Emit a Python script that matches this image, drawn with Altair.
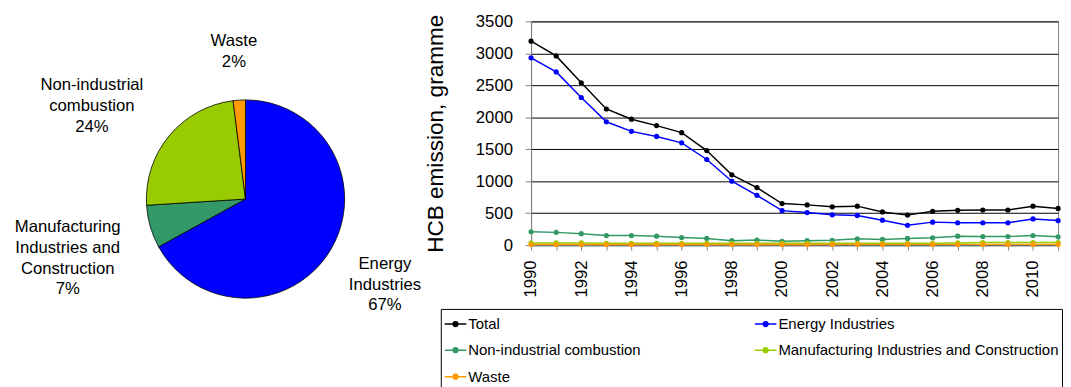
import altair as alt
import pandas as pd

FONT = "Liberation Sans"

# ---- pie data ----
pie_cats = ["Energy Industries", "Manufacturing Industries and Construction",
            "Non-industrial combustion", "Waste"]
pie_pct = [67, 7, 24, 2]
pie_labels = ["Energy\nIndustries\n67%", "Manufacturing\nIndustries and\nConstruction\n7%",
              "Non-industrial\ncombustion\n24%", "Waste\n2%"]
pie_colors = ["#0000FF", "#339966", "#99CC00", "#FF9900"]

# ---- line data ----
years = [1990, 1991, 1992, 1993, 1994, 1995, 1996, 1997, 1998, 1999, 2000,
         2001, 2002, 2003, 2004, 2005, 2006, 2007, 2008, 2009, 2010, 2011]
total = [3190, 2960, 2540, 2130, 1970, 1870, 1760, 1480, 1100, 900, 650,
         630, 600, 610, 520, 470, 530, 545, 550, 550, 610, 575]
energy = [2930, 2710, 2310, 1930, 1780, 1700, 1600, 1340, 1000, 780, 540,
          510, 475, 465, 390, 310, 360, 350, 350, 350, 410, 385]
nonind = [210, 200, 180, 150, 150, 140, 120, 105, 70, 80, 60,
          70, 75, 100, 90, 105, 115, 140, 135, 135, 150, 130]
manuf = [35, 35, 35, 30, 30, 30, 30, 30, 30, 30, 30,
         30, 30, 30, 30, 30, 30, 35, 40, 40, 40, 40]
waste = [10, 10, 10, 10, 10, 10, 10, 10, 10, 10, 10,
         10, 12, 12, 12, 12, 12, 12, 12, 12, 12, 12]
series = ["Total", "Energy Industries", "Non-industrial combustion",
          "Manufacturing Industries and Construction", "Waste"]
series_colors = ["#000000", "#0000FF", "#339966", "#99CC00", "#FF9900"]
y_ticks = [0, 500, 1000, 1500, 2000, 2500, 3000, 3500]

pie_df = pd.DataFrame({"cat": pie_cats, "pct": pie_pct, "label": pie_labels,
                       "idx": list(range(len(pie_cats)))})

rows = []
for name, vals in zip(series, [total, energy, nonind, manuf, waste]):
    for y, v in zip(years, vals):
        rows.append({"year": y, "value": v, "series": name})
line_df = pd.DataFrame(rows)

# ---- pie chart ----
CX, CY = 242, 181
theta_scale = alt.Scale(domain=[0, 100])
pie_arcs = alt.Chart(pie_df).mark_arc(radius=101, stroke="#000000", strokeWidth=0.8).encode(
    theta=alt.Theta("pct:Q", stack=True, scale=theta_scale),
    order=alt.Order("idx:Q"),
    x=alt.value(CX), y=alt.value(CY),
    color=alt.Color("cat:N", scale=alt.Scale(domain=pie_cats, range=pie_colors), legend=None),
)
# label nudges (style only): category -> (dx, dy)
nudges = {
    "Energy Industries": (-6, -21),
    "Manufacturing Industries and Construction": (-16, -19),
    "Non-industrial combustion": (-24, -6),
    "Waste": (-1, 11),
}
label_base = alt.Chart(pie_df).transform_window(
    cum="sum(pct)", sort=[alt.SortField("idx")]
).transform_calculate(mid="datum.cum - datum.pct / 2")
text_layers = []
for cat, (ddx, ddy) in nudges.items():
    text_layers.append(
        label_base.transform_filter(alt.datum.cat == cat)
        .mark_text(radius=172, font=FONT, fontSize=17, lineBreak="\n",
                   lineHeight=21, align="center", baseline="middle",
                   color="#000000", dx=ddx, dy=ddy)
        .encode(theta=alt.Theta("mid:Q", stack=None, scale=theta_scale),
                x=alt.value(CX), y=alt.value(CY), text="label:N")
    )
pie = alt.layer(pie_arcs, *text_layers).properties(width=420, height=228)

# ---- line chart ----
sym = "M-1,0H1M-0.22,0A0.22,0.22,0,1,1,0.22,0A0.22,0.22,0,1,1,-0.22,0Z"
base = alt.Chart(line_df).encode(
    x=alt.X("year:Q", title=None,
            scale=alt.Scale(domain=[1990, 2011], nice=False, zero=False),
            axis=alt.Axis(values=years, format="d", labelAngle=270,
                          labelExpr="datum.value % 2 == 0 ? datum.label : ''",
                          grid=False, domainColor="#808080", tickColor="#808080",
                          tickSize=5, labelFont=FONT, labelFontSize=17,
                          labelColor="#000000", labelPadding=10)),
    y=alt.Y("value:Q", title="HCB emission, gramme",
            scale=alt.Scale(domain=[0, 3500], nice=False),
            axis=alt.Axis(values=y_ticks, format="d", grid=True, gridColor="#000000",
                          gridWidth=1, domainColor="#808080", tickColor="#808080",
                          tickSize=6, labelFont=FONT, labelFontSize=17,
                          labelColor="#000000", labelPadding=13,
                          titleFont=FONT, titleFontSize=23,
                          titleFontWeight="normal", titleColor="#000000", titlePadding=28)),
    color=alt.Color("series:N", scale=alt.Scale(domain=series, range=series_colors),
                    legend=alt.Legend(title=None, orient="none", legendX=-92, legendY=293,
                                      columns=2, direction="horizontal",
                                      symbolType=sym, symbolSize=484,
                                      symbolStrokeWidth=1.5, labelFont=FONT,
                                      labelFontSize=15.2, labelColor="#000000",
                                      labelLimit=400, labelOffset=1,
                                      strokeColor="#000000", padding=3,
                                      rowPadding=6, columnPadding=113,
                                      fillColor="#FFFFFF")),
)
lines = base.mark_line(strokeWidth=1.5)
points = base.mark_circle(size=28, opacity=1)
line_chart = alt.layer(lines, points).properties(
    width=537, height=228, view=alt.ViewBackground(stroke="#808080")
)

chart = alt.hconcat(pie, line_chart, spacing=3).resolve_scale(
    color="independent"
).properties(
    padding={"left": 0, "top": 0, "right": 0, "bottom": 0}
).configure_view(stroke=None)

chart.save("out.html", embed_options={"renderer": "svg", "actions": False})
